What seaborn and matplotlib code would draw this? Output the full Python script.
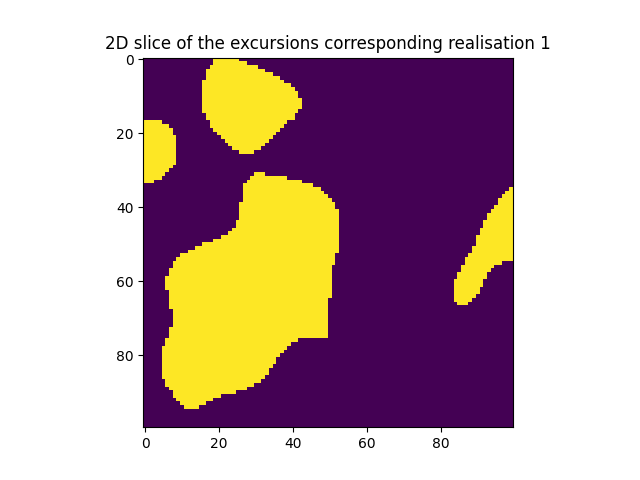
import numpy as np
import matplotlib
matplotlib.use("Agg")
import matplotlib.pyplot as plt
import seaborn as sns

n_grid = 100
title = "2D slice of the excursions corresponding realisation 1"
tick_values = [0, 20, 40, 60, 80]

# Excursion regions read off the slice: first row, then per row the
# [start, stop) column range that is above the threshold.

# top blob
blob_a_top = 0
blob_a_left = [19, 19, 18, 17, 17, 17, 16, 16, 16, 16, 16, 16, 16, 16, 16,
               17, 17, 18, 18, 19, 20, 21, 22, 23, 24, 26]
blob_a_right = [26, 28, 31, 33, 35, 37, 38, 40, 41, 42, 42, 43, 43, 43, 42,
                41, 41, 39, 38, 37, 36, 35, 34, 33, 32, 30]

# blob cut by the left border
blob_b_top = 17
blob_b_left = [0] * 17
blob_b_right = [5, 7, 8, 8, 9, 9, 9, 9, 9, 9, 9, 9, 8, 7, 6, 5, 3]

# big central blob
blob_c_top = 31
blob_c_left = [30, 29, 28, 27, 27, 27, 27, 27, 26, 26, 26, 26, 26, 25, 25,
               24, 23, 21, 19, 16, 14, 12, 10, 9, 8, 8, 7, 7, 6, 6, 6, 6,
               7, 7, 7, 7, 7, 8, 8, 8, 8, 8, 7, 7, 7, 6, 6,
               5, 5, 5, 5, 5, 5, 5, 5, 5, 6, 6, 7, 8, 8, 9, 10, 11]
blob_c_right = [33, 39, 43, 46, 48, 49, 50, 51, 52, 52,
                53, 53, 53, 53, 53, 53, 53, 53, 53, 53, 53, 53,
                52, 52, 52, 51, 51, 51, 51, 51, 51, 51, 51, 51,
                50, 50, 50, 50, 50, 50, 50, 50, 50, 50, 50,
                42, 40, 39, 38, 37, 36, 36, 35, 34, 34, 33, 32, 30, 28,
                25, 21, 19, 17, 15]

# thin blob on the right border
blob_d_top = 35
blob_d_left = [99, 98, 97, 96, 96, 95, 94, 93, 93, 92, 92, 91, 91, 90, 90,
               90, 89, 89, 88, 87, 87, 86, 86, 85, 85, 84, 84, 84, 84, 84,
               84, 85]
blob_d_right = [100] * 20 + [97, 95, 94, 93, 93, 92, 92, 91, 91, 90, 89, 88]


def build_mask():
    mask = np.zeros((n_grid, n_grid), dtype=int)
    blobs = [
        (blob_a_top, blob_a_left, blob_a_right),
        (blob_b_top, blob_b_left, blob_b_right),
        (blob_c_top, blob_c_left, blob_c_right),
        (blob_d_top, blob_d_left, blob_d_right),
    ]
    for top, left, right in blobs:
        for k, (lo, hi) in enumerate(zip(left, right)):
            mask[top + k, lo:hi] = 1
    return mask


mask = build_mask()

fig, ax = plt.subplots(figsize=(6.4, 4.8), dpi=100)
sns.heatmap(mask, cmap="viridis", vmin=0, vmax=1, cbar=False, square=True,
            xticklabels=False, yticklabels=False, ax=ax)

# imshow-like ticks at cell centres
ax.set_xticks(np.array(tick_values) + 0.5)
ax.set_xticklabels(tick_values)
ax.set_yticks(np.array(tick_values) + 0.5)
ax.set_yticklabels(tick_values, rotation=0)
ax.tick_params(left=True, bottom=True, length=3.5, width=0.8)
for spine in ax.spines.values():
    spine.set_visible(True)
    spine.set_linewidth(0.8)

ax.set_title(title)
fig.savefig("out.png")
